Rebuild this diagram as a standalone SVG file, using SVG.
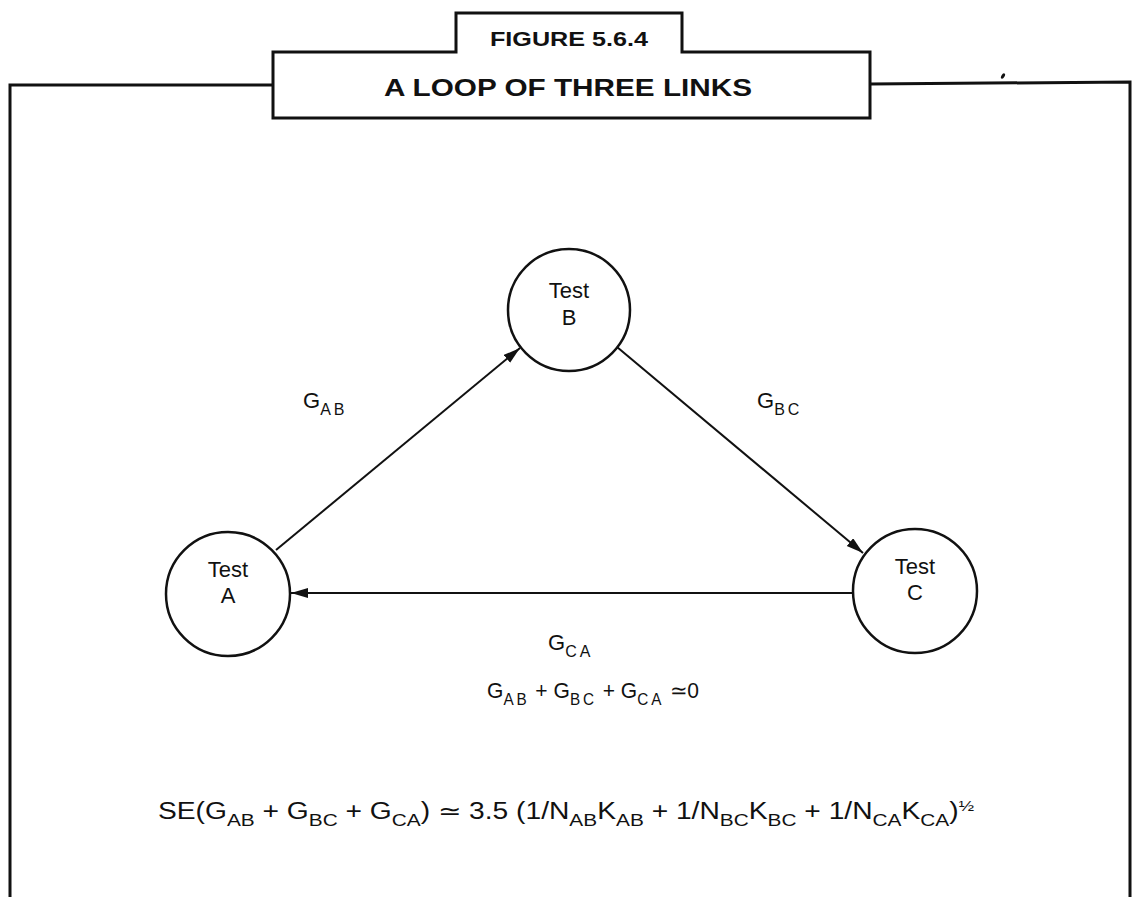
<svg xmlns="http://www.w3.org/2000/svg" width="1132" height="897" viewBox="0 0 1132 897">
<style>
.frame{fill:none;stroke:#111;stroke-width:3;stroke-linejoin:miter}
.node{fill:#fff;stroke:#111;stroke-width:2.5}
.edge{fill:none;stroke:#111;stroke-width:2}
.t{font-family:"Liberation Sans",Arial,sans-serif;fill:#111}
.nt{font-size:22px;text-anchor:middle}
.g{font-size:22px}
.s{font-size:16px;letter-spacing:3px}
.title{font-weight:bold}
</style>
<defs>
<marker id="ah" markerUnits="userSpaceOnUse" markerWidth="18" markerHeight="12" refX="17" refY="5" orient="auto">
<path d="M0,0 L17,5 L0,10 Z" fill="#111"/>
</marker>
</defs>
<rect width="1132" height="897" fill="#fff"/>
<g id="frame">
<path class="frame" d="M10,897 L10,85 L273,85"/>
<path class="frame" d="M273,118 L273,52 L456,52 L456,13 L682,13 L682,52 L870,52 L870,118 Z"/>
<path class="frame" d="M870,84 L1130,82 L1130,897"/>
<ellipse cx="1003" cy="76" rx="1.6" ry="3" transform="rotate(30 1003 76)" fill="#111"/>
<text class="t title" x="569" y="46" font-size="21" text-anchor="middle" textLength="158" lengthAdjust="spacingAndGlyphs">FIGURE 5.6.4</text>
<text class="t title" x="568" y="96" font-size="24" text-anchor="middle" textLength="368" lengthAdjust="spacingAndGlyphs">A LOOP OF THREE LINKS</text>
</g>
<g id="connectors">
<line class="edge" x1="276" y1="550" x2="520" y2="348" marker-end="url(#ah)"/>
<line class="edge" x1="617" y1="347" x2="863" y2="553" marker-end="url(#ah)"/>
<line class="edge" x1="853" y1="593" x2="291" y2="593" marker-end="url(#ah)"/>
<text class="t g" x="303" y="408">G<tspan class="s" dy="7">AB</tspan></text>
<text class="t g" x="757" y="408">G<tspan class="s" dy="7">BC</tspan></text>
<text class="t g" x="548" y="650">G<tspan class="s" dy="7">CA</tspan></text>
</g>
<g id="nodeA">
<circle class="node" cx="228" cy="594" r="62"/>
<text class="t nt" x="228" y="577">Test</text>
<text class="t nt" x="228" y="603">A</text>
</g>
<g id="nodeB">
<circle class="node" cx="569" cy="310" r="61"/>
<text class="t nt" x="569" y="298">Test</text>
<text class="t nt" x="569" y="325">B</text>
</g>
<g id="nodeC">
<circle class="node" cx="915" cy="591" r="62"/>
<text class="t nt" x="915" y="574">Test</text>
<text class="t nt" x="915" y="600">C</text>
</g>
<g id="equations">
<text class="t g" x="487" y="698" textLength="212" lengthAdjust="spacingAndGlyphs">G<tspan class="s" dy="7">AB</tspan><tspan dy="-7"> + G</tspan><tspan class="s" dy="7">BC</tspan><tspan dy="-7"> + G</tspan><tspan class="s" dy="7">CA</tspan><tspan dy="-7"> ≃0</tspan></text>
<text class="t" x="158" y="819" font-size="23" textLength="816" lengthAdjust="spacingAndGlyphs">SE(G<tspan font-size="17" dy="7">AB</tspan><tspan dy="-7"> + G</tspan><tspan font-size="17" dy="7">BC</tspan><tspan dy="-7"> + G</tspan><tspan font-size="17" dy="7">CA</tspan><tspan dy="-7">) ≃ 3.5 (1/N</tspan><tspan font-size="17" dy="7">AB</tspan><tspan dy="-7">K</tspan><tspan font-size="17" dy="7">AB</tspan><tspan dy="-7"> + 1/N</tspan><tspan font-size="17" dy="7">BC</tspan><tspan dy="-7">K</tspan><tspan font-size="17" dy="7">BC</tspan><tspan dy="-7"> + 1/N</tspan><tspan font-size="17" dy="7">CA</tspan><tspan dy="-7">K</tspan><tspan font-size="17" dy="7">CA</tspan><tspan dy="-7">)</tspan><tspan font-size="15" dy="-8">½</tspan></text>
</g>
</svg>
